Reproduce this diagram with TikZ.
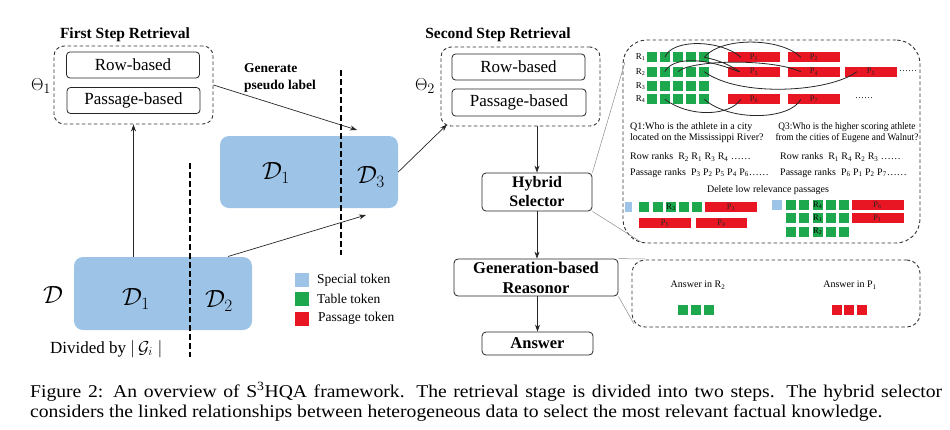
\documentclass[tikz,border=0pt]{standalone}
\usepackage{fontspec}
\setmainfont{Liberation Serif}
\usetikzlibrary{arrows.meta}
\definecolor{lblue}{RGB}{157,195,230}
\definecolor{tgreen}{RGB}{30,168,78}
\definecolor{tred}{RGB}{232,22,34}
\begin{document}
\begin{tikzpicture}[x=1pt,y=-1pt,
  rbox/.style={draw=black!85, rounded corners=3.5pt, line width=0.8pt, inner sep=0pt, font=\fontsize{17}{17}\selectfont},
  bbox/.style={draw=black!85, rounded corners=4pt, line width=0.8pt, inner sep=0pt, align=center, font=\bfseries\fontsize{16}{19}\selectfont},
  dbox/.style={draw=black!80, dash pattern=on 3.5pt off 2.5pt, line width=0.9pt, inner sep=0pt},
  blk/.style={fill=lblue, rounded corners=9pt, inner sep=0pt},
  sep/.style={line width=2.6pt, dash pattern=on 6pt off 3pt},
  arr/.style={-{Stealth[length=7pt,width=5pt]}, line width=0.7pt, draw=black!85},
  gline/.style={draw=black!45, line width=0.5pt},
  title/.style={font=\bfseries\fontsize{15.5}{15.5}\selectfont},
  cal/.style={font=\fontsize{25}{25}\selectfont},
  gsq/.style={fill=tgreen, minimum width=10pt, minimum height=10pt, inner sep=0pt, font=\fontsize{8.5}{8.5}\selectfont},
  rbar/.style={fill=tred, minimum height=10pt, inner sep=0pt, font=\fontsize{8.5}{8.5}\selectfont, text=black!85},
  bsq/.style={fill=lblue, minimum height=10pt, inner sep=0pt},
  small/.style={font=\fontsize{10}{11.5}\selectfont, inner sep=0pt},
  legtxt/.style={font=\fontsize{13.5}{13.5}\selectfont, anchor=west, inner sep=0pt},
  curve/.style={line width=0.8pt, draw=black!85}
]
\useasboundingbox (0,0) rectangle (950,429);

% ---------- First step retrieval ----------
\node[title] (t1) at (125,35) {First Step Retrieval};
\node[dbox, rounded corners=10pt, minimum width=159pt, minimum height=78pt] (th1) at (133.5,85) {};
\node[rbox, minimum width=133pt, minimum height=26pt] (rb1) at (133,65) {Row-based};
\node[rbox, minimum width=133pt, minimum height=26pt] (pb1) at (133.5,100.5) {Passage-based};
\node[font=\fontsize{19}{19}\selectfont] (th1l) at (41,86) {$\Theta_{1}$};

\node[align=left, anchor=west, inner sep=0pt, font=\bfseries\fontsize{13.5}{17}\selectfont] (gpl) at (244,78) {Generate\\pseudo label};

% ---------- data blocks ----------
\node[blk, minimum width=178pt, minimum height=72pt] (d13) at (309,172) {};
\node[cal] (d13a) at (276,173) {$\mathcal{D}_1$};
\node[cal] (d13b) at (371,177) {$\mathcal{D}_3$};

\node[blk, minimum width=178pt, minimum height=73pt] (d12) at (163,293.5) {};
\node[cal] (dall) at (53,295) {$\mathcal{D}$};
\node[cal] (d12a) at (136,299) {$\mathcal{D}_1$};
\node[cal] (d12b) at (219,301) {$\mathcal{D}_2$};

\coordinate (s1a) at (341,70);
\coordinate (s1b) at (341,255);
\draw[sep] (s1a) -- (s1b);
\coordinate (s2a) at (190,163);
\coordinate (s2b) at (190,357);
\draw[sep] (s2a) -- (s2b);

\node[anchor=base west, inner sep=0pt, font=\fontsize{17}{17}\selectfont] (div) at (50,353) {Divided by $|\,\mathcal{G}_{i}\;|$};

% arrows of the left part
\draw[arr] (th1.south |- d12.north) -- (th1.south);
\coordinate (a1e) at (357,130);
\draw[arr] (th1.east) -- (a1e);
\coordinate (a2s) at (228,256.5);
\coordinate (a2e) at (366,215);
\draw[arr] (a2s) -- (a2e);

% legend
\node[bsq, minimum width=14pt, minimum height=14pt] (lg1) at (302,280) {};
\node[gsq, minimum width=14pt, minimum height=14pt] (lg2) at (302,299) {};
\node[rbar, minimum width=14pt, minimum height=14pt] (lg3) at (302,318.5) {};
\node[legtxt] (lt1) at (317,280) {Special token};
\node[legtxt] (lt2) at (317,299) {Table token};
\node[legtxt] (lt3) at (318,318.5) {Passage token};

% ---------- Second step retrieval ----------
\node[title] (t2) at (498,35) {Second Step Retrieval};
\node[dbox, rounded corners=10pt, minimum width=159pt, minimum height=79pt] (th2) at (520.5,86.5) {};
\node[rbox, minimum width=133pt, minimum height=26pt] (rb2) at (518.5,67) {Row-based};
\node[rbox, minimum width=134pt, minimum height=27pt] (pb2) at (519,102.5) {Passage-based};
\node[font=\fontsize{19}{19}\selectfont] (th2l) at (425,86) {$\Theta_{2}$};
\coordinate (a3e) at (447,124.5);
\draw[arr] (d13.east) -- (a3e);

\node[bbox, minimum width=110pt, minimum height=38pt] (hs) at (537,192) {Hybrid\\Selector};
\node[bbox, minimum width=164pt, minimum height=37pt, font=\bfseries\fontsize{16.5}{20}\selectfont] (gr) at (536,277.5) {Generation-based\\Reasonor};
\node[bbox, minimum width=111pt, minimum height=23pt, font=\bfseries\fontsize{16.5}{16.5}\selectfont] (ans) at (537.5,343.5) {Answer};

\draw[arr] (th2.south -| hs.north) -- (hs.north);
\draw[arr] (hs.south) -- (hs.south |- gr.north);
\draw[arr] (gr.south -| ans.north) -- (ans.north);

% ---------- detail boxes ----------
\node[dbox, rounded corners=24pt, minimum width=297pt, minimum height=203pt] (sel) at (771.5,141.5) {};
\node[dbox, rounded corners=13pt, minimum width=288pt, minimum height=67pt] (ansbox) at (776,293.5) {};

\coordinate (gl1) at (625,62);
\coordinate (gl2) at (641,242);
\coordinate (gl3) at (645,259);
\coordinate (gl4) at (634,324);
\draw[gline] (hs.north east) -- (gl1);
\draw[gline] (hs.south east) -- (gl2);
\draw[gline] (gr.north east) -- (gl3);
\draw[gline] (gr.south east) -- (gl4);

% table grid
\foreach \r/\ry in {1/57.3,2/71.7,3/86,4/99.3}{
  \node[small, anchor=east, font=\fontsize{9}{9}\selectfont] (rl\r) at (645.5,\ry) {R\textsubscript{\r}};
  \foreach \c in {1,...,5}{
    \node[gsq] (g\r\c) at ({651.7+13.15*(\c-1)},\ry) {};
  }
}
\node[rbar, minimum width=52pt] (p1) at (754,57.3) {P\textsubscript{1}};
\node[rbar, minimum width=52pt] (p2) at (814,57.3) {P\textsubscript{2}};
\node[rbar, minimum width=52pt] (p3) at (754,71.7) {P\textsubscript{3}};
\node[rbar, minimum width=52pt] (p4) at (814,71.7) {P\textsubscript{4}};
\node[rbar, minimum width=52pt] (p5) at (871,71.7) {P\textsubscript{5}};
\node[rbar, minimum width=52pt] (p6) at (754,99.3) {P\textsubscript{6}};
\node[rbar, minimum width=52pt] (p7) at (814,99.3) {P\textsubscript{7}};
\node[small, font=\fontsize{9}{9}\selectfont] (dots1) at (908,71) {\ldots\ldots};
\node[small, font=\fontsize{9}{9}\selectfont] (dots2) at (864,98.5) {\ldots\ldots};

% links
\draw[curve] (g12.center) .. controls (672,38) and (722,40) .. ([xshift=13pt]p1.west);
\draw[curve] (g15.center) .. controls (722,36) and (782,38) .. ([xshift=13pt]p2.west);
\draw[curve] (g15.center) .. controls (718,60) and (728,64) .. ([xshift=12pt]p3.west);
\draw[curve] (g22.center) .. controls (672,58) and (700,56) .. ([xshift=11pt]p3.west);
\draw[curve] (g23.center) .. controls (690,60) and (770,58) .. ([xshift=13pt]p4.west);
\draw[curve] (g25.center) .. controls (740,98) and (830,92) .. ([xshift=12pt]p5.west);
\draw[curve] (g42.center) .. controls (690,118) and (730,116) .. ([xshift=13pt]p6.west);
\draw[curve] (g45.center) .. controls (730,122) and (790,120) .. ([xshift=13pt]p7.west);

% questions
\node[small, anchor=west, align=left] (q1) at (630,132.5) {Q1:Who is the athlete in a city\\located on the Mississippi River?};
\node[small, align=center] (q3) at (847,132.5) {\scalebox{0.93}[1]{Q3:Who is the higher scoring athlete}\\\scalebox{0.93}[1]{from the cities of Eugene and Walnut?}};
\node[small, anchor=west] (rr1) at (630,157) {Row ranks\ \ R\textsubscript{2} R\textsubscript{1} R\textsubscript{3} R\textsubscript{4} \ldots\ldots};
\node[small, anchor=west] (rr2) at (780,157) {Row ranks\ \ R\textsubscript{1} R\textsubscript{4} R\textsubscript{2} R\textsubscript{3} \ldots\ldots};
\node[small, anchor=west] (pr1) at (630,173) {Passage ranks\ \ P\textsubscript{3}\ P\textsubscript{2}\ P\textsubscript{5}\ P\textsubscript{4}\ P\textsubscript{6}\ldots\ldots};
\node[small, anchor=west] (pr2) at (780,173) {Passage ranks\ \ P\textsubscript{6}\ P\textsubscript{1}\ P\textsubscript{2}\ P\textsubscript{7}\ldots\ldots};
\node[small] (del) at (768,190) {Delete low relevance passages};

% selection, left
\node[bsq, minimum width=7pt] (sb1) at (628.5,207) {};
\node[gsq] (sa1) at (644.3,207) {};
\node[gsq] (sa2) at (657.7,207) {};
\node[gsq] (sa3) at (671,207) {R\textsubscript{3}};
\node[gsq] (sa4) at (684.3,207) {};
\node[gsq] (sa5) at (696.7,207) {};
\node[rbar, minimum width=52pt] (sp3) at (731,207) {P\textsubscript{3}};
\node[rbar, minimum width=52pt] (sp5) at (665,223) {P\textsubscript{5}};
\node[rbar, minimum width=51pt] (sp4) at (721.5,223) {P\textsubscript{4}};

% selection, right
\node[bsq, minimum width=10pt] (sb2) at (777,205) {};
\foreach \r/\ry/\lab in {1/205/4,2/218.3/1,3/231.5/2}{
  \node[gsq] (sc\r1) at (791,\ry) {};
  \node[gsq] (sc\r2) at (804.3,\ry) {};
  \node[gsq] (sc\r3) at (817.7,\ry) {R\textsubscript{\lab}};
  \node[gsq] (sc\r4) at (831,\ry) {};
  \node[gsq] (sc\r5) at (843.7,\ry) {};
}
\node[rbar, minimum width=52pt] (sp6) at (877.5,205) {P\textsubscript{6}};
\node[rbar, minimum width=52pt] (sp1) at (877.5,218.3) {P\textsubscript{1}};

% answers
\node[small] (ar) at (698,285) {Answer in R\textsubscript{2}};
\node[gsq] (ag1) at (683.3,310) {};
\node[gsq] (ag2) at (696,310) {};
\node[gsq] (ag3) at (708.7,310) {};
\node[small] (ap) at (850,285) {Answer in P\textsubscript{1}};
\node[rbar, minimum width=10pt] (ar1) at (836.7,310) {};
\node[rbar, minimum width=10pt] (ar2) at (849.3,310) {};
\node[rbar, minimum width=10pt] (ar3) at (862,310) {};

% ---------- caption ----------
\node[anchor=base west, inner sep=0pt, font=\fontsize{18}{20}\selectfont] (cap1) at (30,397) {\scalebox{1.09}[1]{\makebox[836.7pt][s]{Figure 2: An overview of S\textsuperscript{3}HQA framework. The retrieval stage is divided into two steps. The hybrid selector}}};
\node[anchor=base west, inner sep=0pt, font=\fontsize{18}{20}\selectfont] (cap2) at (30,417) {\scalebox{1.09}[1]{considers the linked relationships between heterogeneous data to select the most relevant factual knowledge.}};
\end{tikzpicture}
\end{document}
